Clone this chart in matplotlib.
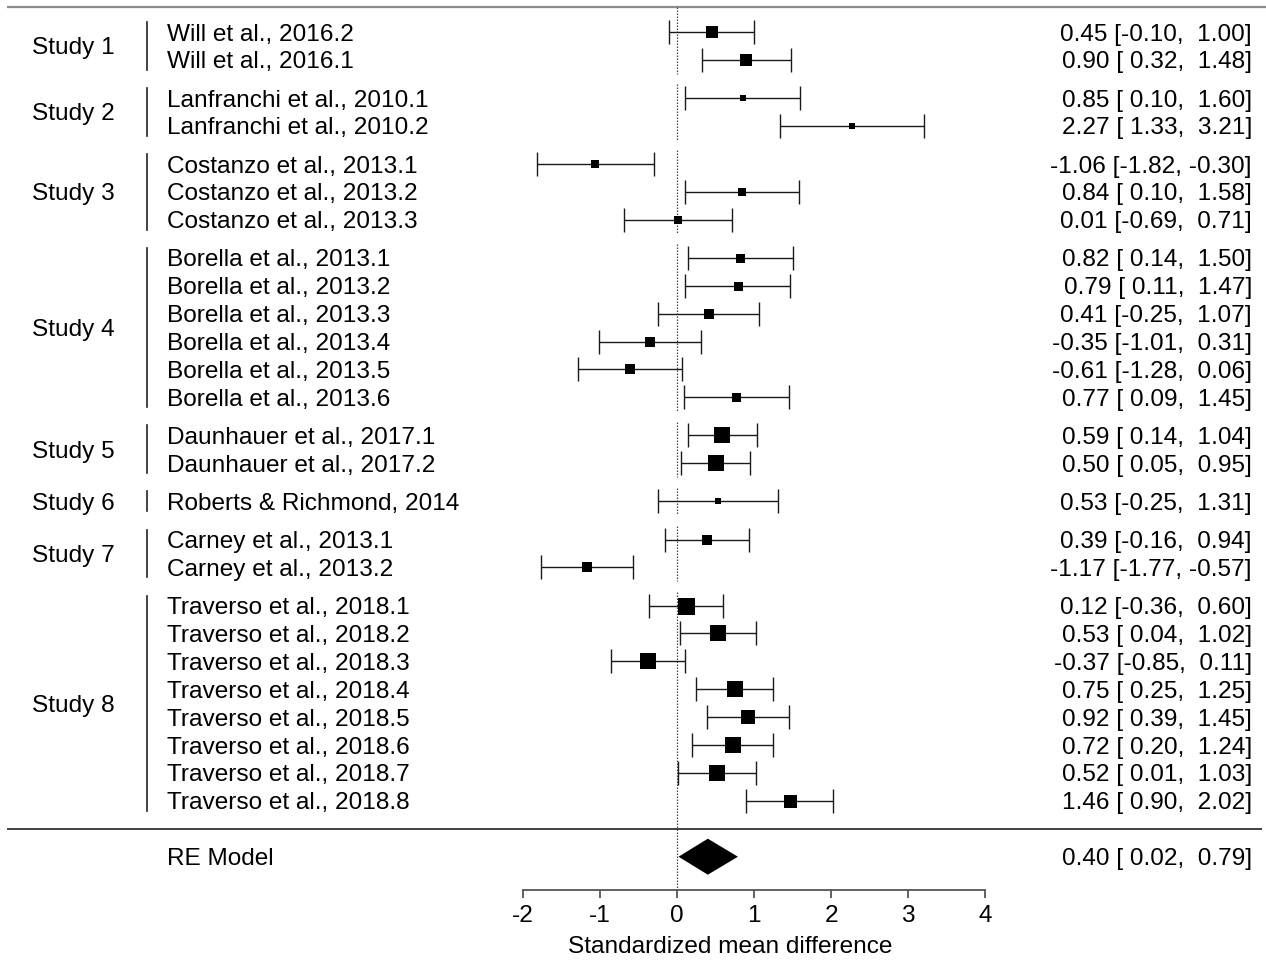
import matplotlib
matplotlib.use("Agg")
import matplotlib.pyplot as plt
import numpy as np

plt.rcParams['font.family'] = ['Liberation Sans', 'DejaVu Sans']

# ---------------- data ----------------
groups = ["Study 1", "Study 2", "Study 3", "Study 4", "Study 5", "Study 6", "Study 7", "Study 8"]
group_sizes = [2, 2, 3, 6, 2, 1, 2, 8]
study_labels = [
    "Will et al., 2016.2", "Will et al., 2016.1",
    "Lanfranchi et al., 2010.1", "Lanfranchi et al., 2010.2",
    "Costanzo et al., 2013.1", "Costanzo et al., 2013.2", "Costanzo et al., 2013.3",
    "Borella et al., 2013.1", "Borella et al., 2013.2", "Borella et al., 2013.3",
    "Borella et al., 2013.4", "Borella et al., 2013.5", "Borella et al., 2013.6",
    "Daunhauer et al., 2017.1", "Daunhauer et al., 2017.2",
    "Roberts & Richmond, 2014",
    "Carney et al., 2013.1", "Carney et al., 2013.2",
    "Traverso et al., 2018.1", "Traverso et al., 2018.2", "Traverso et al., 2018.3",
    "Traverso et al., 2018.4", "Traverso et al., 2018.5", "Traverso et al., 2018.6",
    "Traverso et al., 2018.7", "Traverso et al., 2018.8",
]
estimates = [0.45, 0.90, 0.85, 2.27, -1.06, 0.84, 0.01, 0.82, 0.79, 0.41, -0.35, -0.61, 0.77,
             0.59, 0.50, 0.53, 0.39, -1.17, 0.12, 0.53, -0.37, 0.75, 0.92, 0.72, 0.52, 1.46]
ci_lower = [-0.10, 0.32, 0.10, 1.33, -1.82, 0.10, -0.69, 0.14, 0.11, -0.25, -1.01, -1.28, 0.09,
            0.14, 0.05, -0.25, -0.16, -1.77, -0.36, 0.04, -0.85, 0.25, 0.39, 0.20, 0.01, 0.90]
ci_upper = [1.00, 1.48, 1.60, 3.21, -0.30, 1.58, 0.71, 1.50, 1.47, 1.07, 0.31, 0.06, 1.45,
            1.04, 0.95, 1.31, 0.94, -0.57, 0.60, 1.02, 0.11, 1.25, 1.45, 1.24, 1.03, 2.02]
# relative study weights (drive box size)
weights = [12.3, 12.3, 6.3, 6.0, 8.3, 8.3, 8.7, 9.0, 9.0, 9.3, 9.3, 9.3, 9.0,
           15.3, 15.3, 5.5, 9.3, 9.3, 17.0, 16.0, 16.3, 15.3, 14.7, 15.3, 15.3, 13.0]
re_label = "RE Model"
re_est, re_lo, re_hi = 0.40, 0.02, 0.79
x_ticks = [-2, -1, 0, 1, 2, 3, 4]
x_label = "Standardized mean difference"

# ---------------- layout ----------------
W, H = 1266, 961
fig = plt.figure(figsize=(W / 100, H / 100), dpi=100)
ax = fig.add_axes([0, 0, 1, 1])
x0_px, unit_px = 677.0, 77.1
ax.set_xlim((0 - x0_px) / unit_px, (W - x0_px) / unit_px)
ax.set_ylim(H, 0)

FS = 17.6
VA = 'center_baseline'
step, gap, y_first = 27.9, 38.1, 32.0

rows = []
group_rows = []
y = y_first
for gi, n in enumerate(group_sizes):
    if gi > 0:
        y += gap - step
    g = []
    for k in range(n):
        rows.append(y)
        g.append(y)
        y += step
    group_rows.append(g)
last_row = rows[-1]
y_bottom_line = last_row + step
y_re = last_row + 2 * step
y_top_line = y_first - 25
y_axis = y_re + 33

def px2x(px):
    return (px - x0_px) / unit_px

# horizontal lines
ax.plot([px2x(7), px2x(W)], [y_top_line, y_top_line], color='#8c8c8c', lw=1.6, solid_capstyle='butt')
ax.plot([px2x(7), px2x(1262)], [y_bottom_line, y_bottom_line], color='#333333', lw=1.3, solid_capstyle='butt')

# dotted reference line at 0, per group
for gi, g in enumerate(group_rows):
    top = g[0] - step / 2
    bot = g[-1] + step / 2
    if gi == 0:
        top = y_top_line
    if gi == len(group_rows) - 1:
        bot = y_axis
    ax.plot([0, 0], [top, bot], color='#444444', lw=0.9, ls=(0, (1.2, 1.2)))

# group separators and labels
for gi, g in enumerate(group_rows):
    ax.plot([px2x(147), px2x(147)], [g[0] - 10, g[-1] + 10], color='#222222', lw=1.2)
    ax.text(32 / W, (g[0] + g[-1]) / 2, groups[gi], transform=ax.get_yaxis_transform(),
            fontsize=FS, ha='left', va=VA)

# studies
for i, yy in enumerate(rows):
    ax.errorbar([estimates[i]], [yy],
                xerr=[[estimates[i] - ci_lower[i]], [ci_upper[i] - estimates[i]]],
                fmt='none', ecolor='#1a1a1a', elinewidth=1.0, capsize=8.8, capthick=1.0)
    side_pt = weights[i] * 0.72
    ax.plot([estimates[i]], [yy], marker='s', ms=side_pt, color='black', mec='black', mew=0)
    ax.text(167 / W, yy, study_labels[i], transform=ax.get_yaxis_transform(),
            fontsize=FS, ha='left', va=VA)
    ax.text(1252 / W, yy, f"{estimates[i]:.2f} [{ci_lower[i]:5.2f}, {ci_upper[i]:5.2f}]",
            transform=ax.get_yaxis_transform(), fontsize=FS, ha='right', va=VA)

# RE model diamond
hh = 18
ax.fill([re_lo, re_est, re_hi, re_est], [y_re, y_re - hh, y_re, y_re + hh], color='black', lw=0)
ax.text(167 / W, y_re, re_label, transform=ax.get_yaxis_transform(), fontsize=FS, ha='left', va=VA)
ax.text(1252 / W, y_re, f"{re_est:.2f} [{re_lo:5.2f}, {re_hi:5.2f}]",
        transform=ax.get_yaxis_transform(), fontsize=FS, ha='right', va=VA)

# axis
for s in ['top', 'left', 'right']:
    ax.spines[s].set_visible(False)
ax.spines['bottom'].set_position(('data', y_axis))
ax.spines['bottom'].set_bounds(x_ticks[0], x_ticks[-1])
ax.spines['bottom'].set_color('#555555')
ax.spines['bottom'].set_linewidth(1.3)
ax.set_xticks(x_ticks)
ax.set_xticklabels([str(t) for t in x_ticks])
ax.tick_params(axis='x', direction='out', length=5.8, width=1.3, color='#555555',
               labelsize=FS, pad=5.5)
ax.set_yticks([])
ax.set_xlabel(x_label, fontsize=FS)
ax.xaxis.set_label_coords(730 / W, (H - 947) / H)
ax.xaxis.label.set_va('center')

fig.savefig("out.png", dpi=100)
